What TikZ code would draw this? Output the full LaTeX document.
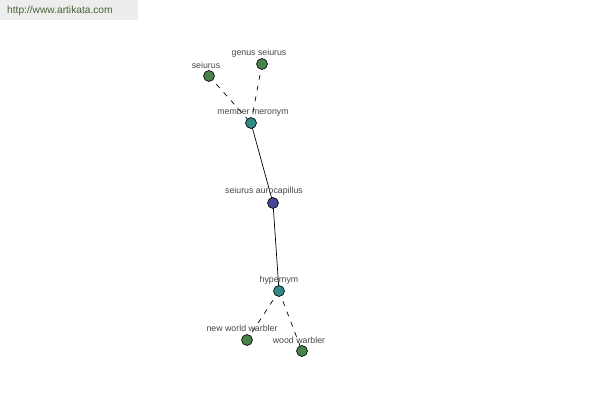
\documentclass[tikz,border=0pt]{standalone}
\usepackage{fontspec}
\setmainfont{Liberation Sans}
\definecolor{leafc}{RGB}{72,130,72}
\definecolor{relc}{RGB}{50,135,135}
\definecolor{mainc}{RGB}{70,70,150}
\begin{document}
\begin{tikzpicture}[x=1pt,y=-1pt,
  dot/.style={circle,draw=black,line width=0.6pt,minimum size=11pt,inner sep=0pt},
  leaf/.style={dot,fill=leafc},
  rel/.style={dot,fill=relc},
  main/.style={dot,fill=mainc},
  lbl/.style={font=\fontsize{8.8}{9}\selectfont,text=black!72,inner sep=0pt},
  link/.style={line width=0.7pt},
  dlink/.style={line width=0.7pt,dash pattern=on 5pt off 6pt}]
\useasboundingbox (0,0) rectangle (600,400);
\fill[black!7] (0,0) rectangle (138,20);
\node[anchor=west,inner sep=0pt,font=\fontsize{10.2}{11}\selectfont,text={rgb,255:red,70;green,100;blue,50}] (url) at (7,11) {http://www.artikata.com};
% nodes
\coordinate (cS) at (209,76);
\coordinate (cG) at (262,64);
\coordinate (cM) at (251,123);
\coordinate (cA) at (273,203);
\coordinate (cH) at (279,291);
\coordinate (cN) at (247,340);
\coordinate (cW) at (302,351);
\draw[dlink] (cS) -- (cM);
\draw[dlink] (cG) -- (cM);
\draw[link] (cM) -- (cA);
\draw[link] (cA) -- (cH);
\draw[dlink] (cH) -- (cN);
\draw[dlink] (cH) -- (cW);
\node[leaf] (s) at (cS) {};
\node[leaf] (g) at (cG) {};
\node[rel] (m) at (cM) {};
\node[main] (a) at (cA) {};
\node[rel] (h) at (cH) {};
\node[leaf] (n) at (cN) {};
\node[leaf] (w) at (cW) {};
\node[lbl] (ls) at (206,65) {seiurus};
\node[lbl] (lg) at (259,53) {genus seiurus};
\node[lbl] (lm) at (253,112) {member meronym};
\node[lbl] (la) at (264,191) {seiurus aurocapillus};
\node[lbl] (lh) at (279,280) {hypernym};
\node[lbl] (ln) at (242,328) {new world warbler};
\node[lbl] (lw) at (299,340) {wood warbler};
\end{tikzpicture}
\end{document}
